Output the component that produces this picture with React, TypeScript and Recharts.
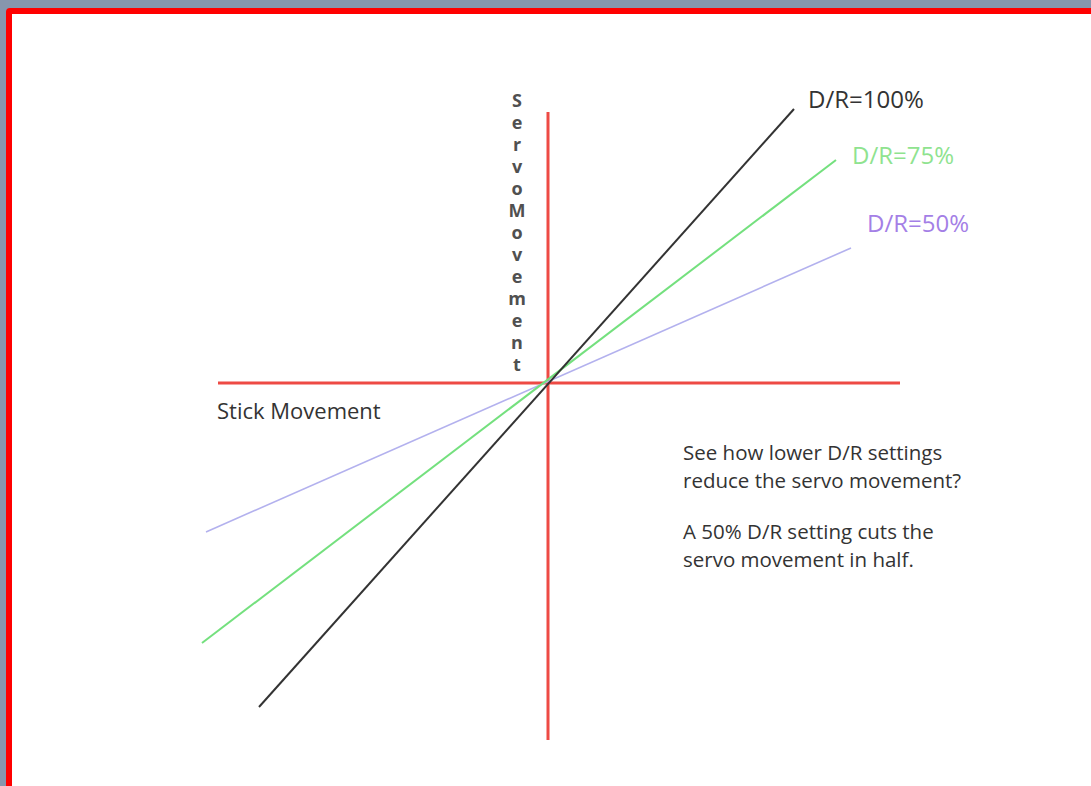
import { LineChart, Line, XAxis, YAxis, ReferenceLine } from "recharts";

// stick movement (x) against servo movement (y), 0 = centre of the sticks
const dr100X = [-2.89, 2.46];
const dr100Y = [-3.24, 2.74];
const dr75X = [-3.46, 2.88];
const dr75Y = [-2.6, 2.23];
const dr50X = [-3.42, 3.03];
const dr50Y = [-1.49, 1.35];

const stickAxisX = [-3.3, 3.52];
const servoAxisY = [-3.57, 2.71];

const seriesNames = ["D/R=100%", "D/R=75%", "D/R=50%"];
const servoLetters = "ServoMovement".split("");
const noteLines = [
  "See how lower D/R settings",
  "reduce the servo movement?",
  "A 50% D/R setting cuts the",
  "servo movement in half.",
];

const toPoints = (xs: number[], ys: number[]) => xs.map((x, i) => ({ x, y: ys[i] }));

const dr100 = toPoints(dr100X, dr100Y);
const dr75 = toPoints(dr75X, dr75Y);
const dr50 = toPoints(dr50X, dr50Y);

const font = "'Open Sans', sans-serif";
const noteTops = [438, 466, 517, 545];

export default function App() {
  return (
    <div
      style={{
        position: "absolute",
        left: 0,
        top: 0,
        width: 1091,
        height: 786,
        overflow: "hidden",
        background: "#8796ad",
        fontFamily: font,
      }}
    >
      <div
        style={{
          position: "absolute",
          left: 6,
          top: 8,
          width: 1100,
          height: 800,
          background: "#fff",
          border: "6px solid #ff0000",
          borderRadius: 4,
        }}
      />
      <div style={{ position: "absolute", left: 0, top: 0 }}>
        <LineChart width={1091} height={786} margin={{ top: 0, right: 0, bottom: 0, left: 0 }}>
          <XAxis type="number" dataKey="x" domain={[-5.48, 5.43]} hide allowDataOverflow />
          <YAxis type="number" dataKey="y" domain={[-4.03, 3.83]} hide allowDataOverflow />
          <ReferenceLine
            segment={[
              { x: stickAxisX[0], y: 0 },
              { x: stickAxisX[1], y: 0 },
            ]}
            stroke="#ee4a44"
            strokeWidth={3}
          />
          <ReferenceLine
            segment={[
              { x: 0, y: servoAxisY[0] },
              { x: 0, y: servoAxisY[1] },
            ]}
            stroke="#ee4a44"
            strokeWidth={3}
          />
          <Line data={dr50} dataKey="y" name={seriesNames[2]} type="linear" stroke="#b3b1ee" strokeWidth={1.6} dot={false} activeDot={false} isAnimationActive={false} />
          <Line data={dr75} dataKey="y" name={seriesNames[1]} type="linear" stroke="#74e07e" strokeWidth={2} dot={false} activeDot={false} isAnimationActive={false} />
          <Line data={dr100} dataKey="y" name={seriesNames[0]} type="linear" stroke="#333" strokeWidth={2} dot={false} activeDot={false} isAnimationActive={false} />
        </LineChart>
      </div>

      <div style={{ position: "absolute", left: 808, top: 84, fontSize: 24, lineHeight: "30px", color: "#333" }}>
        {seriesNames[0]}
      </div>
      <div style={{ position: "absolute", left: 852, top: 140, fontSize: 24, lineHeight: "30px", color: "#8fe38f" }}>
        {seriesNames[1]}
      </div>
      <div style={{ position: "absolute", left: 867, top: 208, fontSize: 24, lineHeight: "30px", color: "#a47fe6" }}>
        {seriesNames[2]}
      </div>

      <div style={{ position: "absolute", left: 217, top: 396, fontSize: 22, lineHeight: "28px", color: "#333" }}>
        Stick Movement
      </div>

      <div style={{ position: "absolute", left: 505, top: 89, width: 24, textAlign: "center", color: "#505050", fontWeight: 700, fontSize: 18 }}>
        {servoLetters.map((c, i) => (
          <div key={i} style={{ height: 22, lineHeight: "22px" }}>
            {c}
          </div>
        ))}
      </div>

      {noteLines.map((t, i) => (
        <div
          key={i}
          style={{ position: "absolute", left: 683, top: noteTops[i], fontSize: 20.5, lineHeight: "28px", color: "#333", whiteSpace: "nowrap" }}
        >
          {t}
        </div>
      ))}
    </div>
  );
}
